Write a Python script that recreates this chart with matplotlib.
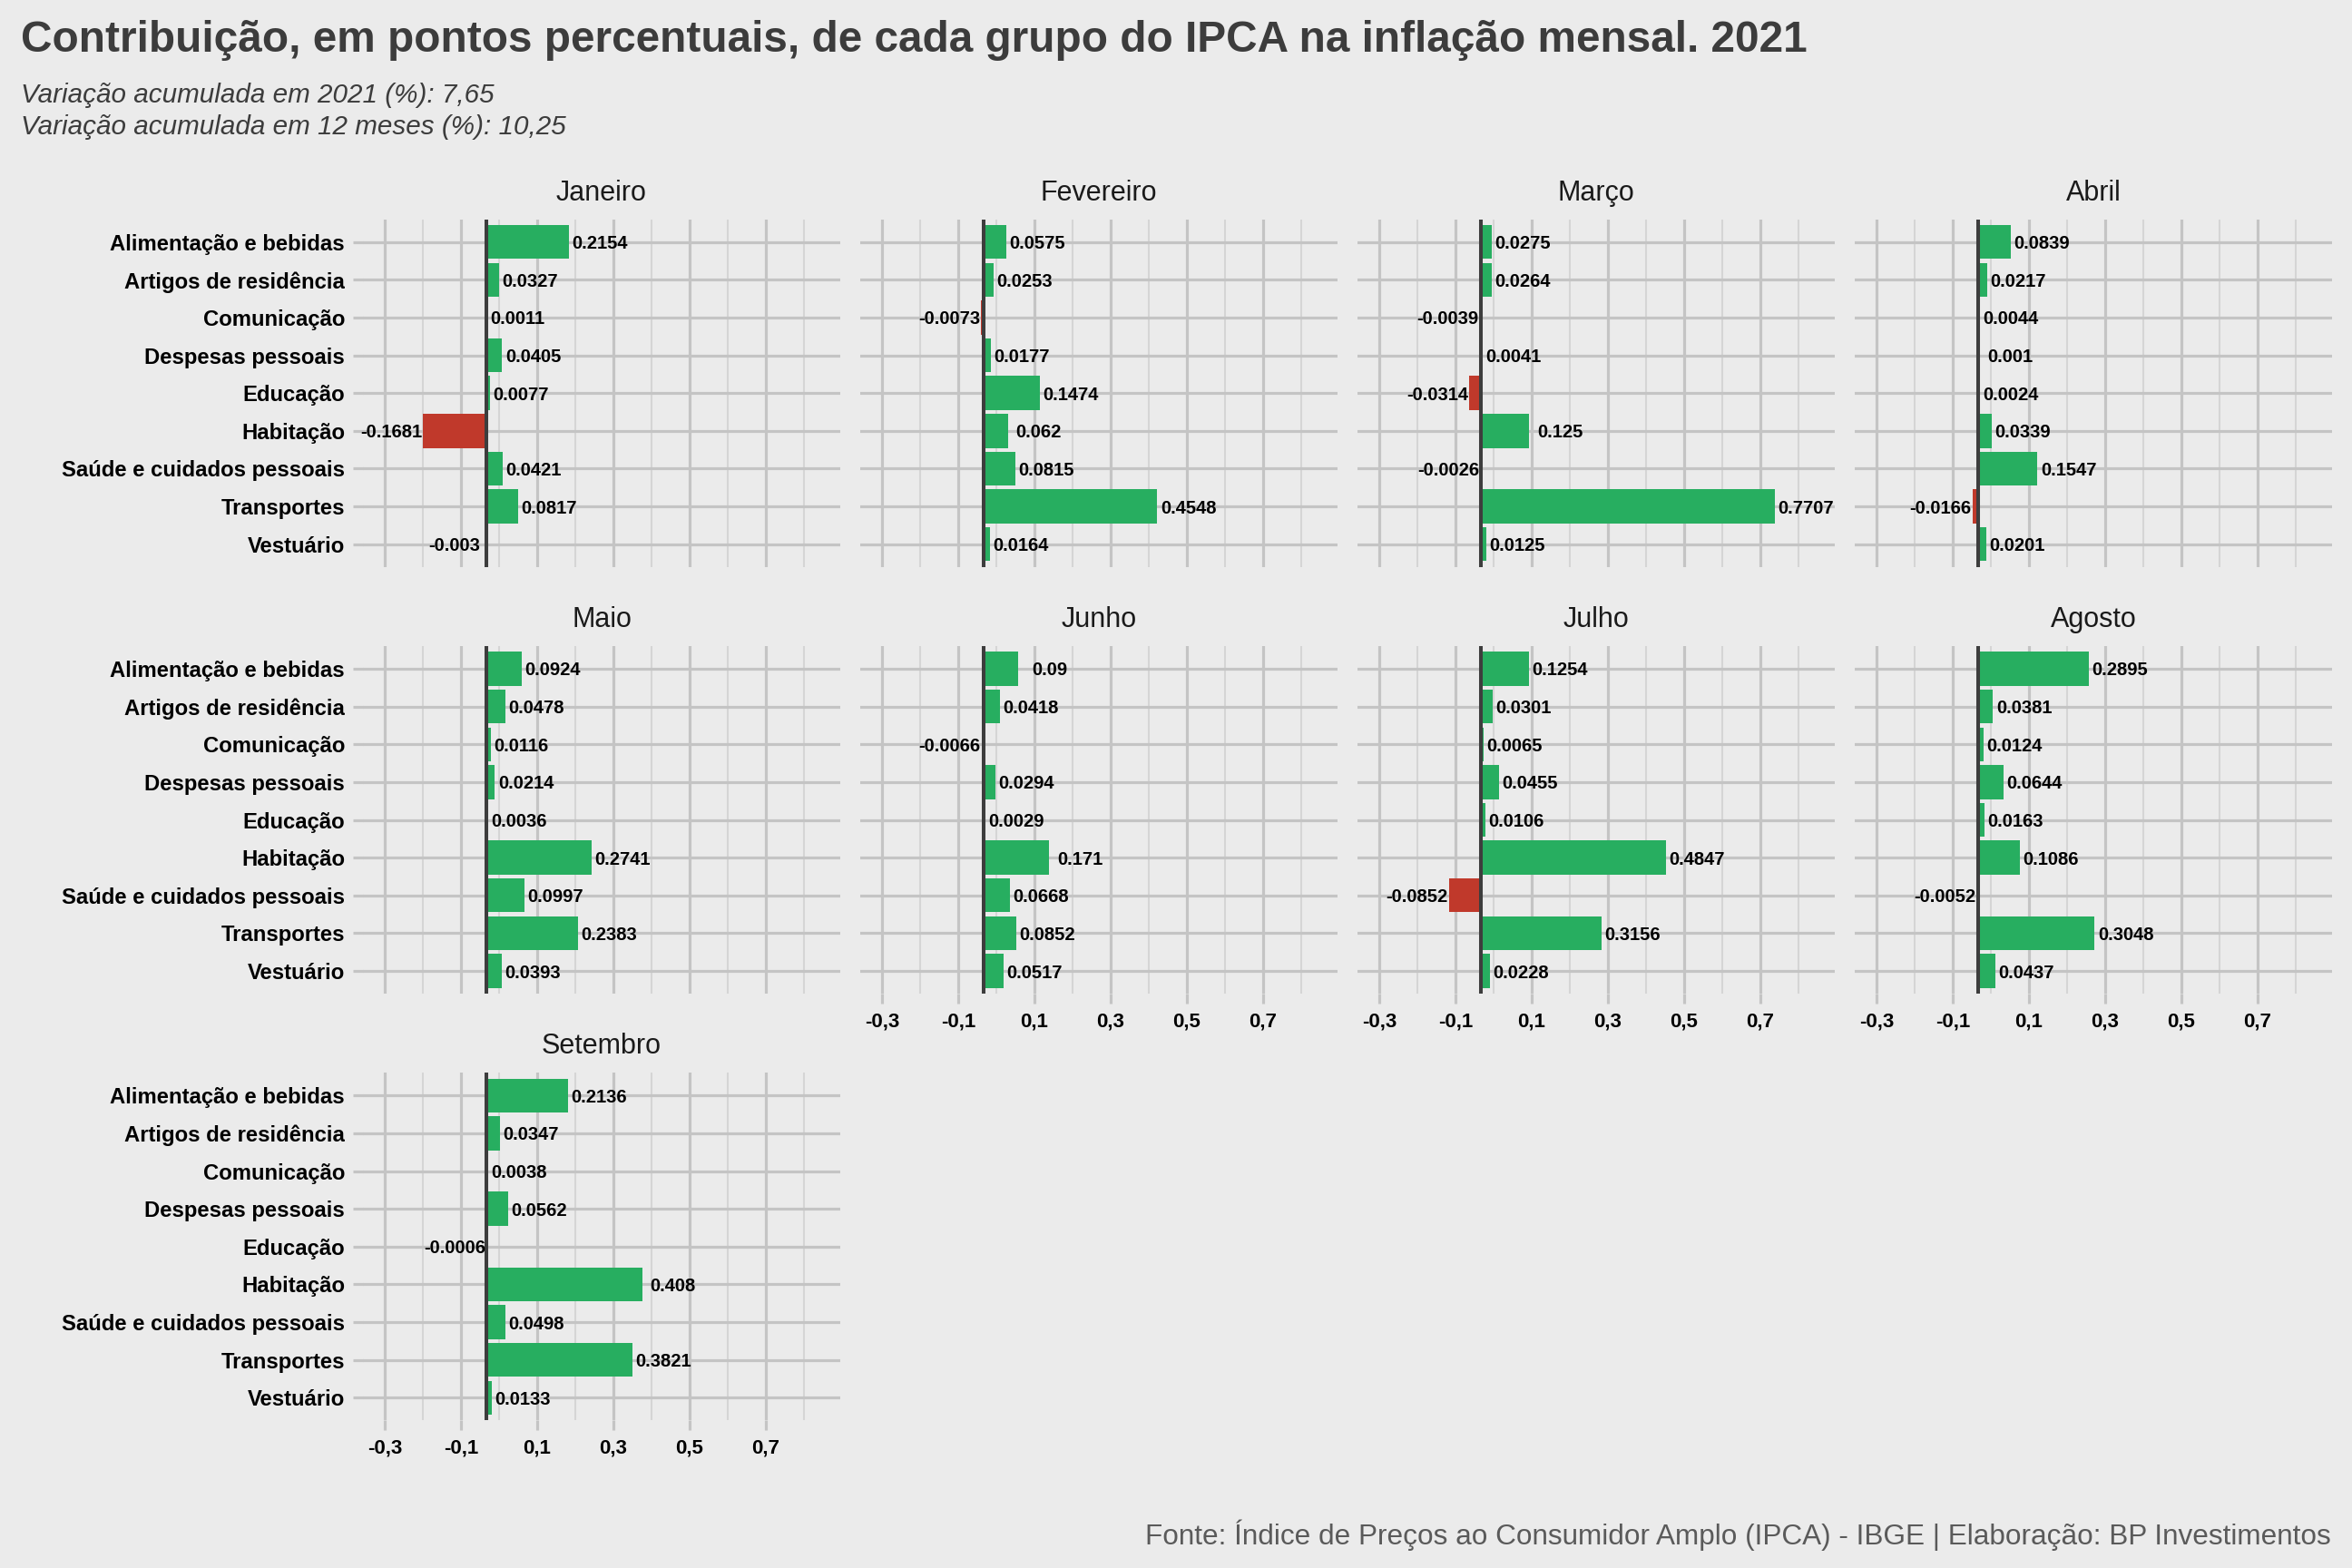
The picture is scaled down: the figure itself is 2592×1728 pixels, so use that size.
import numpy as np
import matplotlib
matplotlib.use("Agg")
import matplotlib.pyplot as plt
from matplotlib.ticker import FixedLocator

plt.rcParams['font.family'] = ['Liberation Sans', 'DejaVu Sans']

categories = ["Alimentação e bebidas", "Artigos de residência", "Comunicação",
              "Despesas pessoais", "Educação", "Habitação",
              "Saúde e cuidados pessoais", "Transportes", "Vestuário"]

months = ["Janeiro", "Fevereiro", "Março", "Abril", "Maio", "Junho",
          "Julho", "Agosto", "Setembro"]

janeiro = [0.2154, 0.0327, 0.0011, 0.0405, 0.0077, -0.1681, 0.0421, 0.0817, -0.003]
fevereiro = [0.0575, 0.0253, -0.0073, 0.0177, 0.1474, 0.062, 0.0815, 0.4548, 0.0164]
marco = [0.0275, 0.0264, -0.0039, 0.0041, -0.0314, 0.125, -0.0026, 0.7707, 0.0125]
abril = [0.0839, 0.0217, 0.0044, 0.001, 0.0024, 0.0339, 0.1547, -0.0166, 0.0201]
maio = [0.0924, 0.0478, 0.0116, 0.0214, 0.0036, 0.2741, 0.0997, 0.2383, 0.0393]
junho = [0.09, 0.0418, -0.0066, 0.0294, 0.0029, 0.171, 0.0668, 0.0852, 0.0517]
julho = [0.1254, 0.0301, 0.0065, 0.0455, 0.0106, 0.4847, -0.0852, 0.3156, 0.0228]
agosto = [0.2895, 0.0381, 0.0124, 0.0644, 0.0163, 0.1086, -0.0052, 0.3048, 0.0437]
setembro = [0.2136, 0.0347, 0.0038, 0.0562, -0.0006, 0.408, 0.0498, 0.3821, 0.0133]

series = [janeiro, fevereiro, marco, abril, maio, junho, julho, agosto, setembro]

title = "Contribuição, em pontos percentuais, de cada grupo do IPCA na inflação mensal. 2021"
subtitle = "Variação acumulada em 2021 (%): 7,65\nVariação acumulada em 12 meses (%): 10,25"
caption = "Fonte: Índice de Preços ao Consumidor Amplo (IPCA) - IBGE | Elaboração: BP Investimentos"

BG = "#EBEBEB"
GRID_MAJ = "#C4C4C4"
GRID_MIN = "#D5D5D5"
GREEN = "#27AE60"
RED = "#C0392B"

W, H = 2592, 1728
fig = plt.figure(figsize=(W / 100, H / 100), dpi=100, facecolor=BG)

# x scale (shared): limits min-0.1 .. max+0.1, breaks every 0.2
allv = np.concatenate([np.array(s) for s in series])
lo = allv.min() - 0.1
hi = allv.max() + 0.1
span = hi - lo
xlim = (lo - 0.05 * span, hi + 0.05 * span)
breaks = np.arange(lo, hi + 1e-9, 0.2)
blabels = [f"{round(b, 1):.1f}".replace(".", ",") for b in breaks]
minors = [b + 0.1 for b in breaks if xlim[0] <= b + 0.1 <= xlim[1]]

col_left = [400, 948, 1496, 2044]
row_top = [241.7, 712, 1182.3]
pw, ph = 526, 383

ypos = np.arange(len(categories))
LBL = 14.5

for i, (m, vals) in enumerate(zip(months, series)):
    r, c = divmod(i, 4)
    left = col_left[c] / W
    bottom = 1 - (row_top[r] + ph) / H
    ax = fig.add_axes([left, bottom, pw / W, ph / H], facecolor=BG)
    vals = np.array(vals)
    colors = [GREEN if v >= 0 else RED for v in vals]
    ax.barh(ypos, vals, height=0.9, color=colors, zorder=2)
    ax.axvline(0, color="#3D3D3D", lw=2.9, zorder=3)
    ax.set_xlim(*xlim)
    ax.set_ylim(len(categories) - 1 + 0.6, -0.6)
    ax.xaxis.set_major_locator(FixedLocator(breaks))
    ax.xaxis.set_minor_locator(FixedLocator(minors))
    ax.set_yticks(ypos)
    ax.grid(True, which="major", axis="both", color=GRID_MAJ, lw=2.3, zorder=0)
    ax.grid(True, which="minor", axis="x", color=GRID_MIN, lw=1.5, zorder=0)
    ax.set_axisbelow(True)
    for s in ax.spines.values():
        s.set_visible(False)
    ax.tick_params(which="minor", length=0)
    show_y = (c == 0)
    show_x = (i + 4 >= len(months))
    if show_y:
        ax.set_yticklabels(categories, fontsize=17.2, fontweight="bold", color="black")
        ax.tick_params(axis="y", length=7.9, width=2.3, color=GRID_MAJ, pad=6.5)
    else:
        ax.tick_params(axis="y", length=0, labelleft=False)
    if show_x:
        ax.set_xticklabels(blabels, fontsize=16, fontweight="bold", color="black")
        ax.tick_params(axis="x", which="major", length=7.9, width=2.3, color=GRID_MAJ, pad=7)
    else:
        ax.tick_params(axis="x", which="major", length=0, labelbottom=False)
    ax.set_title(m, fontsize=22, color="#1A1A1A", pad=15)

    space_pt = 0.278 * LBL
    for y, v in zip(ypos, vals):
        s = f"{v:g}"
        if v >= 0:
            npad = max(0, 6 - len(s))
            ax.annotate(s, xy=(v, y), xytext=(2.4 + npad * space_pt, 0),
                        textcoords="offset points", ha="left", va="center_baseline",
                        fontsize=LBL, fontweight="bold", color="black", zorder=4)
        else:
            npad = max(0, 7 - len(s))
            ax.annotate(s, xy=(v, y), xytext=(-0.7 - npad * space_pt, 0),
                        textcoords="offset points", ha="right", va="center_baseline",
                        fontsize=LBL, fontweight="bold", color="black", zorder=4)

fig.text(23 / W, 1 - 57 / H, title, fontsize=34.4, fontweight="bold",
         color="#3C3C3C", ha="left", va="baseline")
sub_lines = subtitle.split("\n")
fig.text(23 / W, 1 - 113 / H, sub_lines[0], fontsize=21.3, style="italic",
         color="#3C3C3C", ha="left", va="baseline")
fig.text(23 / W, 1 - 148 / H, sub_lines[1], fontsize=21.3, style="italic",
         color="#3C3C3C", ha="left", va="baseline")
fig.text(2569 / W, 1 - 1702 / H, caption, fontsize=22.7, color="#5A5A5A",
         ha="right", va="baseline")

fig.savefig("out.png", dpi=100, facecolor=BG)
